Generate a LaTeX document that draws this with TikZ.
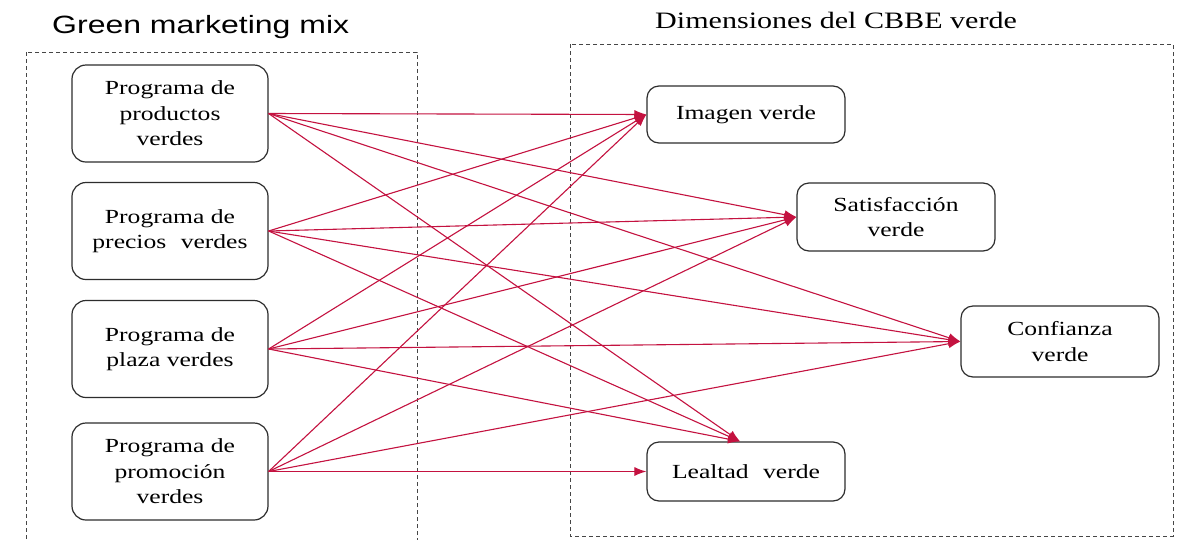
\documentclass[tikz,border=0pt]{standalone}
\usepackage{fontspec}
\setmainfont[FakeStretch=1.28]{Liberation Serif}
\newfontfamily\titlesans[FakeStretch=1.28]{Liberation Sans}
\usetikzlibrary{arrows.meta}
\definecolor{arrowred}{RGB}{196,18,64}
\definecolor{boxline}{RGB}{45,45,45}
\definecolor{dashline}{RGB}{70,70,70}
\begin{document}
\begin{tikzpicture}[x=1pt,y=-1pt,
  src/.style={draw=boxline, line width=1.2pt, rounded corners=14pt, minimum width=196pt, minimum height=97pt, align=center, font=\fontsize{20}{25.5}\selectfont, inner sep=0pt},
  dst/.style={draw=boxline, line width=1.2pt, rounded corners=12pt, minimum width=198pt, align=center, font=\fontsize{20}{25.5}\selectfont, inner sep=0pt},
  group/.style={draw=dashline, line width=0.9pt, dash pattern=on 4pt off 3pt},
  link/.style={draw=arrowred, line width=1.1pt, -{Latex[length=12pt,width=9pt]}},
  title/.style={anchor=base west, inner sep=0pt}]
\useasboundingbox (0,0) rectangle (1192,539);
\fill[white] (0,0) rectangle (1192,539);
% group frames
\draw[group] (26,52) rectangle (417,560);
\draw[group] (570,44) rectangle (1173,536);
% titles
\node[title, font=\titlesans\fontsize{25}{30}\selectfont] (t1) at (52,33) {Green marketing mix};
\node[title, font=\fontsize{23.5}{28}\selectfont] (t2) at (655,28) {Dimensiones del CBBE verde};
% source nodes
\node[src] (p1) at (170,113.5) {Programa de\\productos\\verdes};
\node[src] (p2) at (170,231) {Programa de\\precios\hspace{0.4em} verdes};
\node[src] (p3) at (170,349) {Programa de\\plaza verdes};
\node[src] (p4) at (170,471.5) {Programa de\\promoción\\verdes};
% target nodes
\node[dst, minimum height=57pt] (img) at (746,114.5) {Imagen verde};
\node[dst, minimum height=68pt] (sat) at (896,217) {Satisfacción\\verde};
\node[dst, minimum height=71pt] (con) at (1060,341.5) {Confianza\\verde};
\node[dst, minimum height=59pt] (lea) at (746,471.5) {Lealtad\hspace{0.4em} verde};
% connectors
\foreach \s in {p1,p2,p3} {
  \draw[link] (\s.east) -- (img.west);
  \draw[link] (\s.east) -- (sat.west);
  \draw[link] (\s.east) -- (con.west);
  \draw[link] (\s.east) -- ([xshift=-6pt]lea.north);
}
\draw[link] (p4.east) -- (img.west);
\draw[link] (p4.east) -- (sat.west);
\draw[link] (p4.east) -- (con.west);
\draw[link] (p4.east) -- (lea.west);
\end{tikzpicture}
\end{document}
